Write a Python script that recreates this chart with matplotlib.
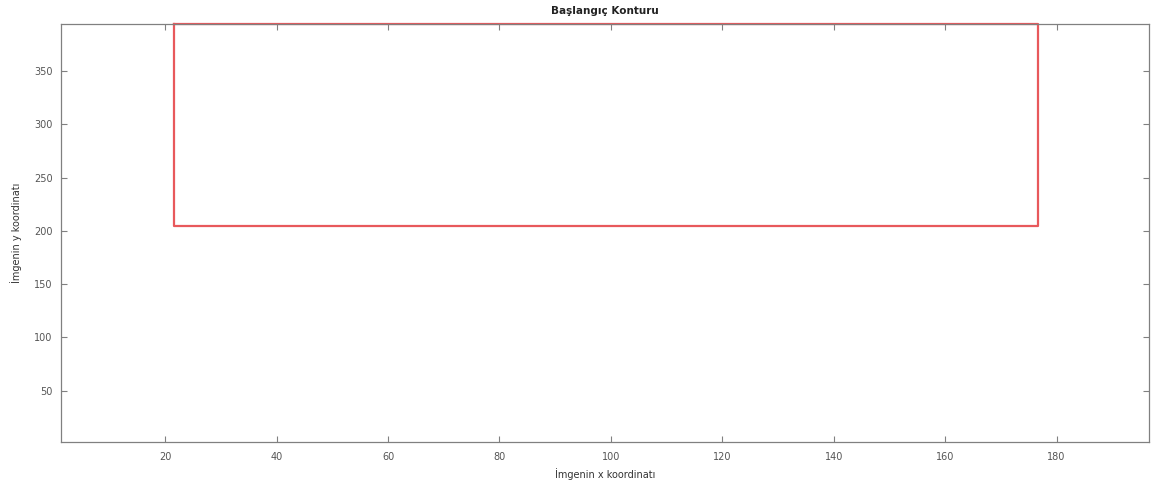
import matplotlib
matplotlib.use("Agg")
import matplotlib.pyplot as plt

# Contour (rectangle) corner values
contour_x = [21.6, 21.6, 176.6, 176.6, 21.6]
contour_y = [394, 204.7, 204.7, 394, 394]

xticks = [20, 40, 60, 80, 100, 120, 140, 160, 180]
yticks = [50, 100, 150, 200, 250, 300, 350]
xlim = (1.3, 196.6)
ylim = (2.0, 394.0)

fig = plt.figure(figsize=(11.51, 4.84), dpi=100)
ax = fig.add_axes([0.053, 0.0868, 0.9453, 0.8636])
ax.plot(contour_x, contour_y, color="#e8595c", linewidth=1.6, clip_on=False)
ax.set_xlim(*xlim)
ax.set_ylim(*ylim)
ax.set_xticks(xticks)
ax.set_yticks(yticks)
gray = "#808080"
for s in ax.spines.values():
    s.set_color(gray)
    s.set_linewidth(0.9)
ax.tick_params(direction="in", top=True, right=True, length=4, width=0.8,
               color=gray, labelcolor="#555555", labelsize=7)
ax.tick_params(axis="x", pad=7)
ax.tick_params(axis="y", pad=6)
ax.set_title("Başlangıç Konturu", fontsize=7.5, fontweight="bold", color="#222222", pad=7)
ax.set_xlabel("İmgenin x koordinatı", fontsize=7, color="#333333", labelpad=4.5)
ax.set_ylabel("İmgenin y koordinatı", fontsize=7, color="#333333", labelpad=8.5)
fig.savefig("out.png", dpi=100)
